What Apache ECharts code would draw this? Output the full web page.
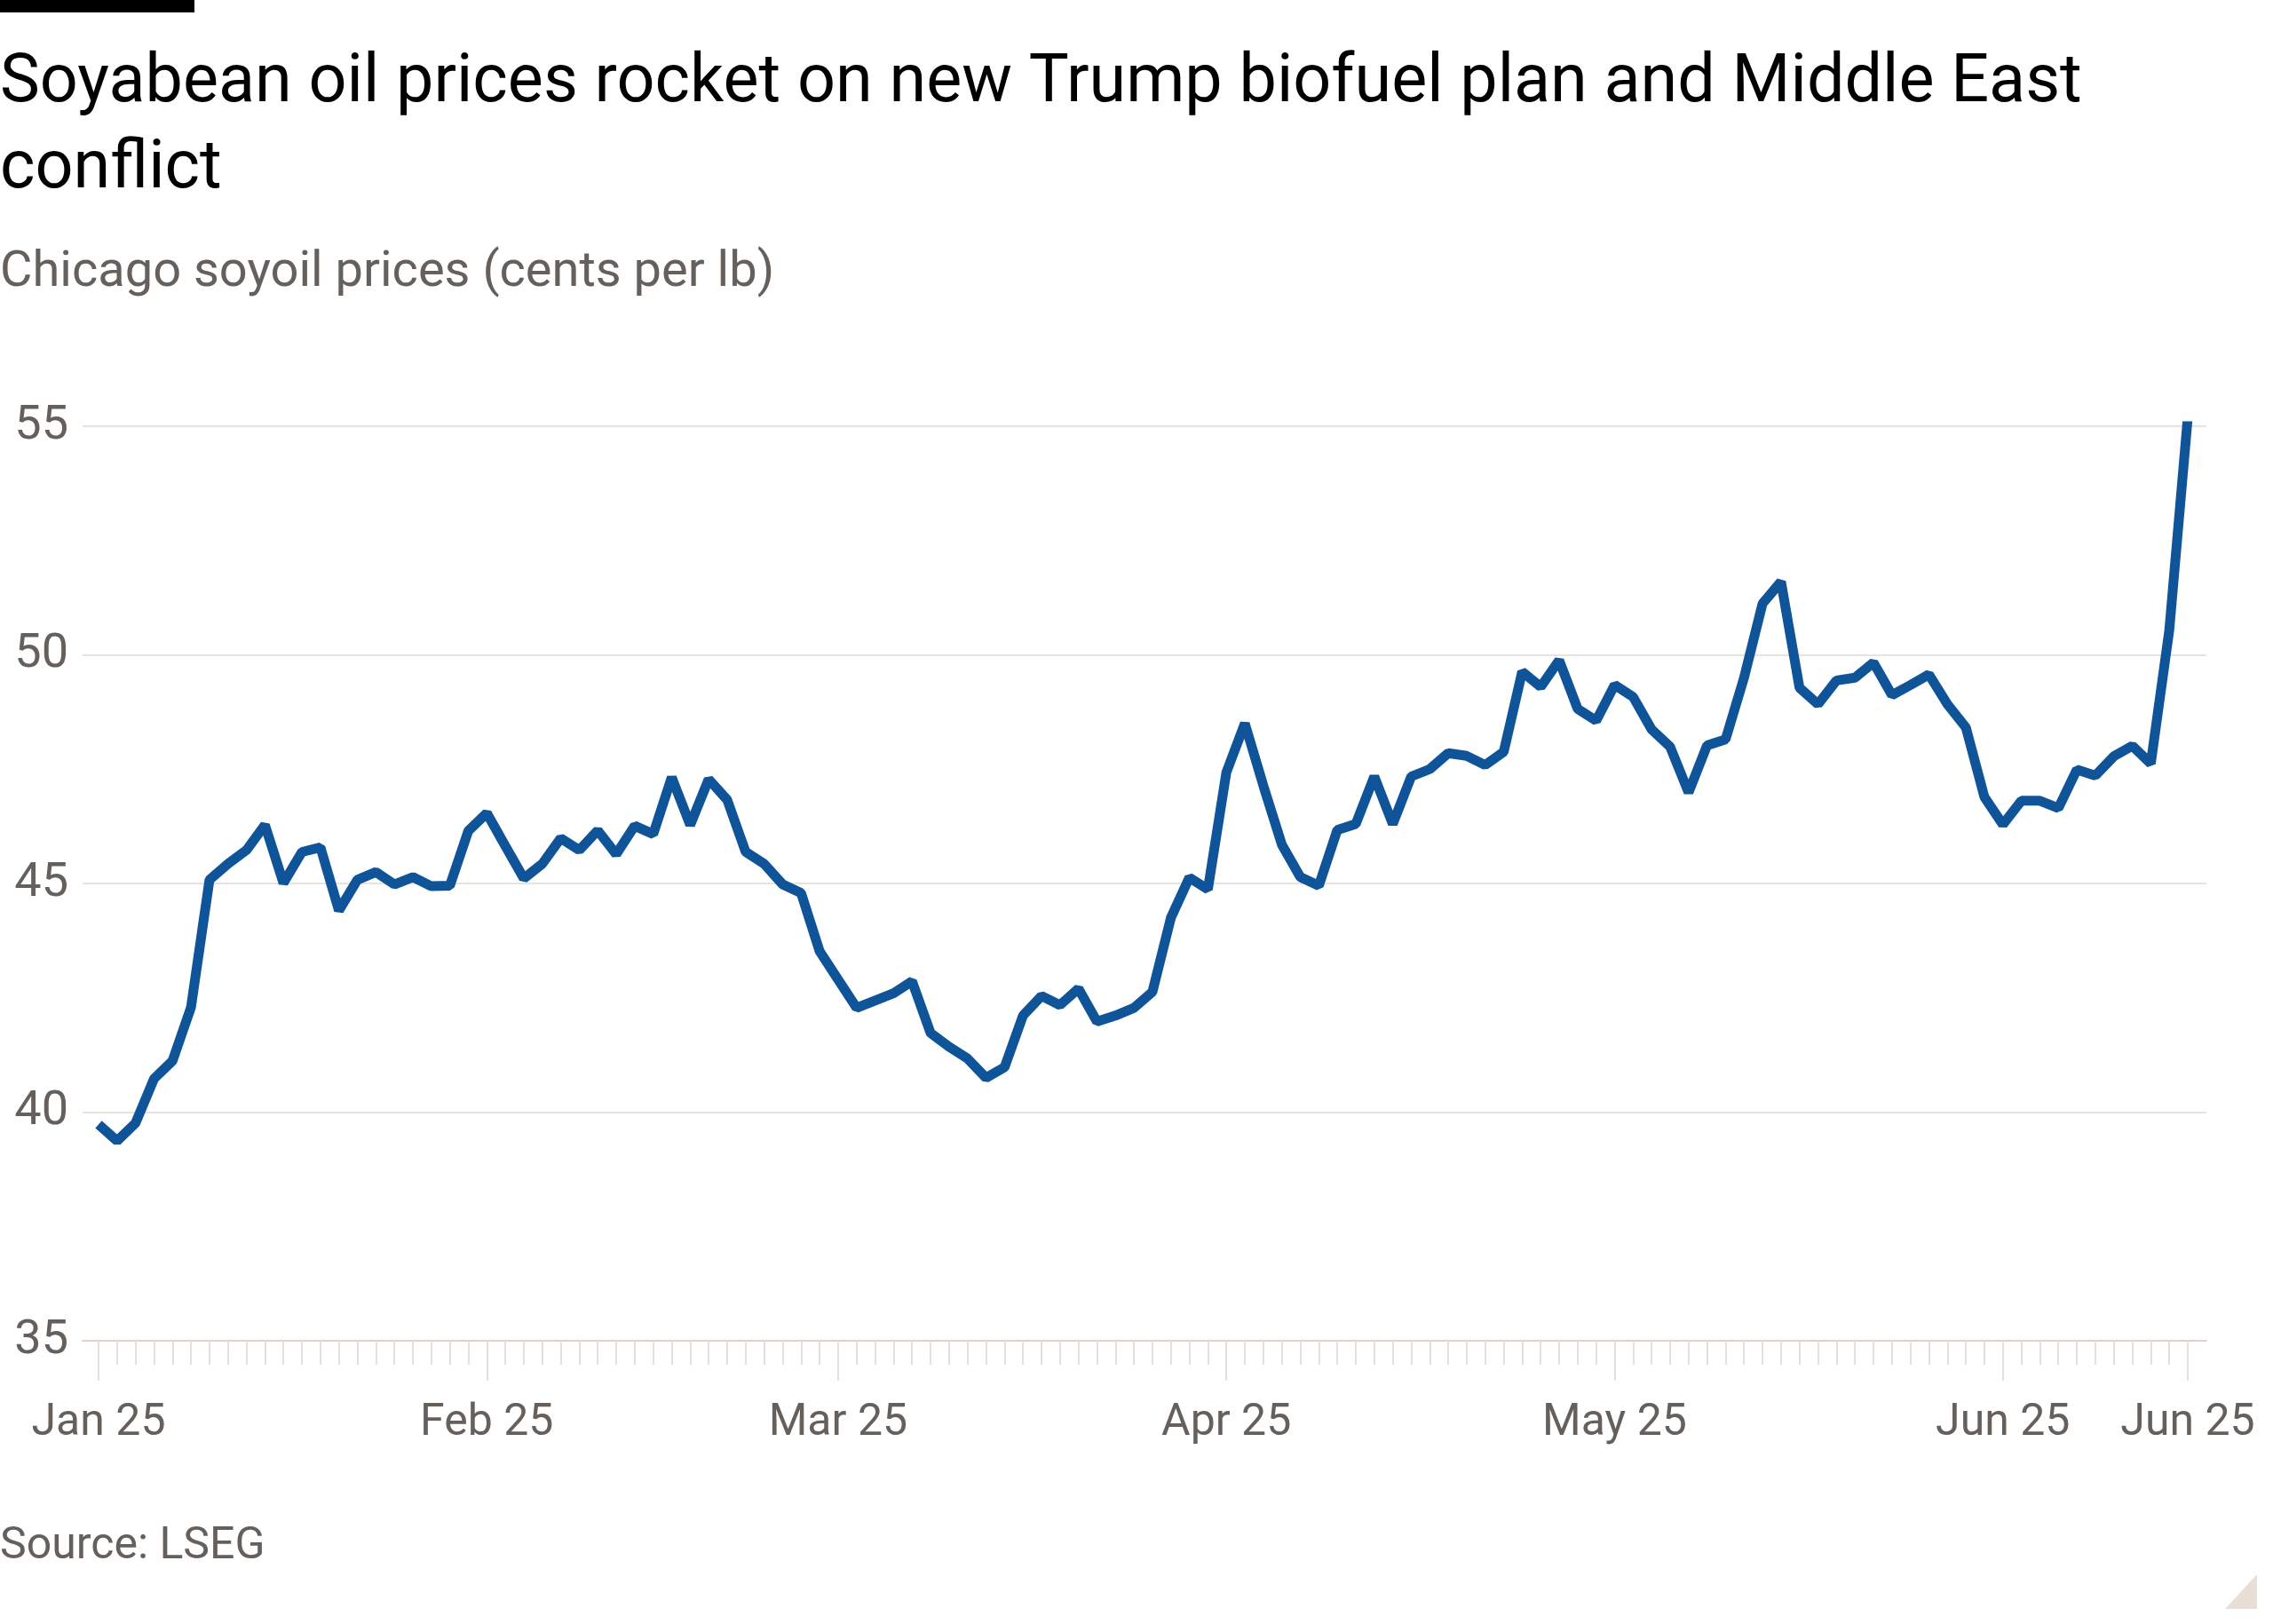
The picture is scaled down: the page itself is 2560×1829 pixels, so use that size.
<!DOCTYPE html>
<html>
<head>
<meta charset="utf-8">
<title>Soyabean oil prices</title>
<script src="https://cdn.jsdelivr.net/npm/echarts@6.0.0/dist/echarts.min.js"></script>
<style>
  html, body { margin: 0; padding: 0; background: #fff; }
  #main { width: 2560px; height: 1829px; }
</style>
</head>
<body>
<div id="main"></div>
<script>
// trading days, Jan 2 - Jun 16 2025
const dates = [
  '2025-01-02','2025-01-03','2025-01-06','2025-01-07','2025-01-08','2025-01-09','2025-01-10',
  '2025-01-13','2025-01-14','2025-01-15','2025-01-16','2025-01-17','2025-01-21','2025-01-22',
  '2025-01-23','2025-01-24','2025-01-27','2025-01-28','2025-01-29','2025-01-30','2025-01-31',
  '2025-02-03','2025-02-04','2025-02-05','2025-02-06','2025-02-07','2025-02-10','2025-02-11',
  '2025-02-12','2025-02-13','2025-02-14','2025-02-18','2025-02-19','2025-02-20','2025-02-21',
  '2025-02-24','2025-02-25','2025-02-26','2025-02-27','2025-02-28',
  '2025-03-03','2025-03-04','2025-03-05','2025-03-06','2025-03-07','2025-03-10','2025-03-11',
  '2025-03-12','2025-03-13','2025-03-14','2025-03-17','2025-03-18','2025-03-19','2025-03-20',
  '2025-03-21','2025-03-24','2025-03-25','2025-03-26','2025-03-27','2025-03-28','2025-03-31',
  '2025-04-01','2025-04-02','2025-04-03','2025-04-04','2025-04-07','2025-04-08','2025-04-09',
  '2025-04-10','2025-04-11','2025-04-14','2025-04-15','2025-04-16','2025-04-17','2025-04-21',
  '2025-04-22','2025-04-23','2025-04-24','2025-04-25','2025-04-28','2025-04-29','2025-04-30',
  '2025-05-01','2025-05-02','2025-05-05','2025-05-06','2025-05-07','2025-05-08','2025-05-09',
  '2025-05-12','2025-05-13','2025-05-14','2025-05-15','2025-05-16','2025-05-19','2025-05-20',
  '2025-05-21','2025-05-22','2025-05-23','2025-05-27','2025-05-28','2025-05-29','2025-05-30',
  '2025-06-02','2025-06-03','2025-06-04','2025-06-05','2025-06-06','2025-06-09','2025-06-10',
  '2025-06-11','2025-06-12','2025-06-13','2025-06-16'
];

// cents per lb
const prices = [
  // jan
  39.73, 39.37, 39.76, 40.73, 41.12, 42.29, 45.08, 45.43, 45.73, 46.28, 45.01, 45.69, 45.79, 44.41,
  45.08, 45.25, 44.98, 45.14, 44.94, 44.95, 46.15,
  // feb
  46.54, 45.82, 45.11, 45.43, 45.99, 45.73, 46.16, 45.64, 46.26, 46.08, 47.32, 46.28, 47.28, 46.83,
  45.69, 45.43, 44.98, 44.79, 43.52,
  // mar
  42.90, 42.28, 42.44, 42.60, 42.86, 41.73, 41.43, 41.17, 40.75, 40.98, 42.11, 42.54, 42.34, 42.70,
  41.98, 42.11, 42.28, 42.63, 44.25, 45.13, 44.87,
  // apr
  47.43, 48.50, 47.14, 45.85, 45.14, 44.95, 46.17, 46.30, 47.34, 46.30, 47.34, 47.50, 47.85, 47.79,
  47.59, 47.88, 49.63, 49.30, 49.88, 48.82, 48.56,
  // may
  49.34, 49.08, 48.37, 47.99, 46.99, 48.02, 48.15, 49.50, 51.12, 51.60, 49.28, 48.92, 49.44, 49.50,
  49.83, 49.12, 49.34, 49.57, 48.92, 48.41, 46.89,
  // jun
  46.29, 46.81, 46.81, 46.65, 47.49, 47.36, 47.78, 48.01, 47.62, 50.54, 55.19
];

const monthNames = ['Jan', 'Feb', 'Mar', 'Apr', 'May', 'Jun'];
const yTicks = [35, 40, 45, 50, 55];

const grey = '#66605c';
const font = 'Roboto';

// label at first trading day of each month and at the last point
function isLabelled(i) {
  if (i === 0 || i === dates.length - 1) return true;
  return dates[i].slice(5, 7) !== dates[i - 1].slice(5, 7);
}

function monthLabel(d) {
  return monthNames[parseInt(d.slice(5, 7), 10) - 1] + ' ' + d.slice(2, 4);
}

const myChart = echarts.init(document.getElementById('main'), null, { renderer: 'canvas' });

const option = {
  animation: false,
  backgroundColor: '#fff',
  textStyle: { fontFamily: font },
  title: [
    {
      text: 'Soyabean oil prices rocket on new Trump biofuel plan and Middle East\nconflict',
      left: 0, top: 47, padding: 0,
      textStyle: { fontFamily: font, fontSize: 75.5, fontWeight: 'normal', color: '#000', lineHeight: 97 }
    },
    {
      text: 'Chicago soyoil prices (cents per lb)',
      left: 0, top: 277, padding: 0,
      textStyle: { fontFamily: font, fontSize: 56, fontWeight: 'normal', color: grey, lineHeight: 62 }
    },
    {
      text: 'Source: LSEG',
      left: 0, top: 1713, padding: 0,
      textStyle: { fontFamily: font, fontSize: 50, fontWeight: 'normal', color: grey, lineHeight: 58 }
    }
  ],
  graphic: [
    { type: 'rect', shape: { x: 0, y: 0, width: 219, height: 14 }, style: { fill: '#000' } },
    { type: 'polygon', shape: { points: [[2542, 1773], [2542, 1812], [2506, 1812]] }, style: { fill: '#e9dfd6' } }
  ],
  grid: [
    { left: 93, right: 75, top: 480, bottom: 319 },
    { left: 111, right: 96, top: 480, bottom: 319 }
  ],
  xAxis: [
    {
      type: 'value', gridIndex: 0, min: 0, max: 1, position: 'bottom',
      axisLine: { show: true, lineStyle: { color: '#ddd3ca', width: 2 } },
      axisTick: { show: false }, axisLabel: { show: false }, splitLine: { show: false }
    },
    {
      type: 'category', gridIndex: 1, data: dates, boundaryGap: false, position: 'bottom',
      axisLine: { show: false },
      axisTick: { show: true, interval: 0, length: 27, lineStyle: { color: '#e4e0dc', width: 2 } },
      axisLabel: { show: false }
    },
    {
      type: 'category', gridIndex: 1, data: dates, boundaryGap: false, position: 'bottom',
      axisLine: { show: false },
      axisTick: { show: true, interval: isLabelled, length: 45, lineStyle: { color: '#e4e0dc', width: 2 } },
      axisLabel: {
        interval: isLabelled,
        formatter: monthLabel,
        fontFamily: font, fontSize: 50, color: grey, margin: 68
      }
    }
  ],
  yAxis: [
    {
      type: 'value', gridIndex: 0,
      min: yTicks[0], max: yTicks[yTicks.length - 1], interval: yTicks[1] - yTicks[0],
      axisLine: { show: false }, axisTick: { show: false },
      axisLabel: { fontFamily: font, fontSize: 54, color: grey, margin: 16, padding: [16, 0, 0, 0] },
      splitLine: { lineStyle: { color: '#e7e3df', width: 2 } }
    },
    {
      type: 'value', gridIndex: 1, show: false,
      min: yTicks[0], max: yTicks[yTicks.length - 1],
      splitLine: { show: false }
    }
  ],
  series: [
    {
      name: 'Soyoil',
      type: 'line',
      xAxisIndex: 2,
      yAxisIndex: 1,
      data: prices,
      symbol: 'none',
      lineStyle: { color: '#0f5499', width: 11 }
    }
  ]
};

myChart.setOption(option);
</script>
</body>
</html>
